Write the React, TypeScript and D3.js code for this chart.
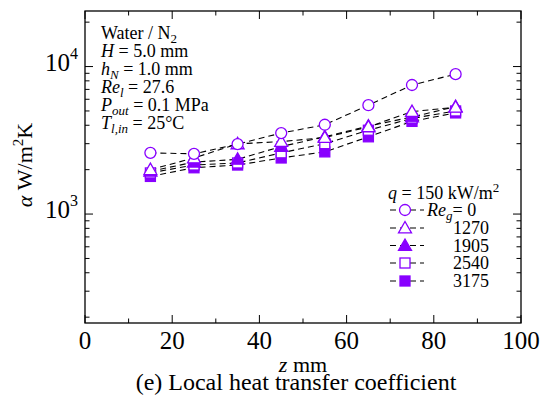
import React from "react";
import * as d3 from "d3";

// axial positions (mm)
const zPos = [15, 25, 35, 45, 55, 65, 75, 85];

// local heat transfer coefficient, W/m2K, one array per gas Reynolds number
const reg0 = [2600, 2560, 2980, 3540, 4030, 5470, 7500, 8880];
const reg1270 = [2000, 2400, 2990, 3100, 3300, 3900, 4950, 5300];
const reg1905 = [1950, 2250, 2350, 2870, 3340, 3950, 4550, 5350];
const reg2540 = [1900, 2150, 2220, 2600, 3000, 3700, 4450, 5000];
const reg3175 = [1800, 2060, 2150, 2400, 2640, 3340, 4250, 4850];

const seriesNames = ["0", "1270", "1905", "2540", "3175"];
const seriesVals = [reg0, reg1270, reg1905, reg2540, reg3175];
const seriesMarks = ["circle", "triangle", "triangleFill", "square", "squareFill"];

const xTicks = [0, 20, 40, 60, 80, 100];
const xMinor = [10, 30, 50, 70, 90];

const W = 545;
const H = 402;
const purple = "#8800ff";
const font = "Liberation Serif, Times New Roman, Times, serif";

const Marker = ({ kind, x, y }: { kind: string; x: number; y: number }) => {
  const fill = kind.endsWith("Fill") ? purple : "#fff";
  if (kind === "circle")
    return <circle cx={x} cy={y} r={5.5} fill={fill} stroke={purple} strokeWidth={1.3} />;
  if (kind.startsWith("triangle")) {
    const s = 6.5;
    const pts = `${x},${y - s} ${x + s},${y + s * 0.75} ${x - s},${y + s * 0.75}`;
    return <polygon points={pts} fill={fill} stroke={purple} strokeWidth={1.3} />;
  }
  const s = 5;
  return <rect x={x - s} y={y - s} width={2 * s} height={2 * s} fill={fill} stroke={purple} strokeWidth={1.3} />;
};

const App = () => {
  const left = 85, right = 521, top = 11, bottom = 323;
  const x = d3.scaleLinear().domain([0, 100]).range([left, right]);
  const y = d3.scaleLog().domain([182.6, 23800]).range([bottom, top]);

  const line = d3
    .line<number>()
    .x((_, i) => x(zPos[i]))
    .y((d) => y(d));

  // minor ticks on the log axis
  const yMinor: number[] = [];
  [100, 1000, 10000].forEach((dec) => {
    for (let k = 2; k <= 9; k++) {
      const v = dec * k;
      if (v > 182.6 && v < 23800) yMinor.push(v);
    }
  });
  const yMajor = [1000, 10000];

  const legX = 405;
  const legY = [210, 228, 245.5, 263, 281];

  return (
    <svg width={W} height={H} style={{ position: "absolute", left: 0, top: 0, background: "#fff", fontFamily: font }}>
      <rect width={W} height={H} fill="#fff" />
      {/* frame */}
      <rect x={left} y={top} width={right - left} height={bottom - top} fill="none" stroke="#000" strokeWidth={1.3} />

      {/* x ticks, bottom and top, pointing inward */}
      {xTicks.map((t) => (
        <g key={"xt" + t}>
          <line x1={x(t)} x2={x(t)} y1={bottom} y2={bottom - 8} stroke="#000" />
          <line x1={x(t)} x2={x(t)} y1={top} y2={top + 8} stroke="#000" />
          <text x={x(t)} y={349} textAnchor="middle" fontSize={25}>{t}</text>
        </g>
      ))}
      {xMinor.map((t) => (
        <g key={"xm" + t}>
          <line x1={x(t)} x2={x(t)} y1={bottom} y2={bottom - 4.5} stroke="#000" />
          <line x1={x(t)} x2={x(t)} y1={top} y2={top + 4.5} stroke="#000" />
        </g>
      ))}

      {/* y ticks */}
      {yMajor.map((t) => (
        <g key={"yt" + t}>
          <line x1={left} x2={left + 8} y1={y(t)} y2={y(t)} stroke="#000" />
          <line x1={right} x2={right - 8} y1={y(t)} y2={y(t)} stroke="#000" />
          <text x={78} y={y(t) + 4} textAnchor="end" fontSize={25}>
            10<tspan dy={-12} fontSize={16}>{Math.round(Math.log10(t))}</tspan>
          </text>
        </g>
      ))}
      {yMinor.map((t) => (
        <g key={"ym" + t}>
          <line x1={left} x2={left + 4.5} y1={y(t)} y2={y(t)} stroke="#000" />
          <line x1={right} x2={right - 4.5} y1={y(t)} y2={y(t)} stroke="#000" />
        </g>
      ))}

      {/* axis titles */}
      <text transform="translate(32,165) rotate(-90)" textAnchor="middle" fontSize={22}>
        <tspan fontStyle="italic">α</tspan> W/m<tspan dy={-9} fontSize={15}>2</tspan><tspan dy={9}>K</tspan>
      </text>
      <text x={303} y={372} textAnchor="middle" fontSize={22}>
        <tspan fontStyle="italic">z</tspan> mm
      </text>
      <text x={296} y={390} textAnchor="middle" fontSize={24}>(e) Local heat transfer coefficient</text>

      {/* conditions */}
      <g fontSize={18}>
        <text x={101} y={39}>Water / N<tspan dy={4} fontSize={13}>2</tspan></text>
        <text x={101} y={57}><tspan fontStyle="italic">H</tspan>  = 5.0 mm</text>
        <text x={101} y={75}>
          <tspan fontStyle="italic">h</tspan><tspan dy={4} fontSize={13} fontStyle="italic">N</tspan><tspan dy={-4}> = 1.0 mm</tspan>
        </text>
        <text x={101} y={93}>
          <tspan fontStyle="italic">Re</tspan><tspan dy={4} fontSize={13} fontStyle="italic">l</tspan><tspan dy={-4}> = 27.6</tspan>
        </text>
        <text x={101} y={111}>
          <tspan fontStyle="italic">P</tspan><tspan dy={4} fontSize={13} fontStyle="italic">out</tspan><tspan dy={-4}> = 0.1 MPa</tspan>
        </text>
        <text x={101} y={129}>
          <tspan fontStyle="italic">T</tspan><tspan dy={4} fontSize={13} fontStyle="italic">l,in</tspan><tspan dy={-4}> = 25°C</tspan>
        </text>
      </g>

      {/* data lines */}
      {seriesVals.map((vals, i) => (
        <path key={"l" + i} d={line(vals) || ""} fill="none" stroke="#000" strokeWidth={1.1} strokeDasharray="6,4" />
      ))}
      {/* markers, last series drawn first */}
      {seriesVals
        .map((vals, i) => ({ vals, i }))
        .reverse()
        .map(({ vals, i }) => (
          <g key={"m" + i}>
            {vals.map((v, j) => (
              <Marker key={j} kind={seriesMarks[i]} x={x(zPos[j])} y={y(v)} />
            ))}
          </g>
        ))}

      {/* legend */}
      <text x={388} y={199} fontSize={18}>
        <tspan fontStyle="italic">q</tspan> = 150 kW/m<tspan dy={-7} fontSize={13}>2</tspan>
      </text>
      {seriesNames.map((name, i) => (
        <g key={"lg" + i}>
          <line x1={390} x2={424} y1={legY[i]} y2={legY[i]} stroke="#000" strokeWidth={1.1} strokeDasharray="6,4" />
          <Marker kind={seriesMarks[i]} x={legX} y={legY[i]} />
          {i === 0 ? (
            <text x={427} y={legY[i] + 6} fontSize={18}>
              <tspan fontStyle="italic">Re</tspan><tspan dy={4} fontSize={13} fontStyle="italic">g</tspan><tspan dy={-4}>= 0</tspan>
            </text>
          ) : (
            <text x={489} y={legY[i] + 6} textAnchor="end" fontSize={18}>{name}</text>
          )}
        </g>
      ))}
    </svg>
  );
};

export default App;
